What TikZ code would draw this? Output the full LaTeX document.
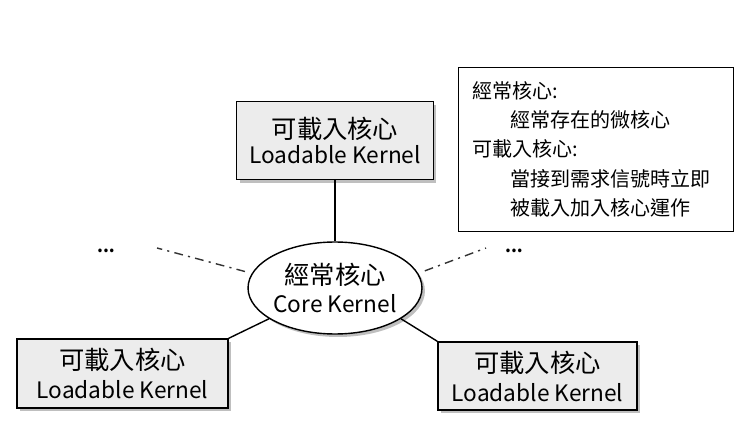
\documentclass[tikz,border=0pt]{standalone}
\usepackage{fontspec}
\setmainfont{Noto Sans CJK TC}
\usetikzlibrary{shapes,shadows,positioning}

\newcommand{\kname}[1]{{\fontsize{12.9}{16}\selectfont #1}}

\begin{document}
\begin{tikzpicture}[
				x=0.02cm, y=-0.02cm,
				loadable/.style={rectangle, draw, thick, fill=gray!15, align=center, inner sep=0pt, font=\fontsize{14.4}{16.5}\selectfont, drop shadow={shadow xshift=0.06cm, shadow yshift=-0.06cm}},
				core/.style={ellipse, draw, thick, fill=white, minimum width=3.4cm, minimum height=1.84cm, inner sep=0pt, align=center, font=\fontsize{14.4}{15.5}\selectfont, drop shadow={shadow xshift=0.06cm, shadow yshift=-0.06cm}},
				link/.style={thick},
				hint/.style={thick, gray!40!black, dash pattern=on 5pt off 3pt on 1.2pt off 3pt},
				note/.style={rectangle, draw, anchor=north west, text width=5.5cm, minimum height=3.28cm, align=left, inner sep=0pt, font=\fontsize{11.4}{16.6}\selectfont},
				more/.style={font=\bfseries\fontsize{9.5}{10}\selectfont}
				]
				\useasboundingbox (0,0) rectangle (749,438);
				\node[core] (core) at (335,288) {經常核心\\\kname{Core Kernel}};
				\node[loadable, minimum width=3.94cm, minimum height=1.56cm, above=1.22cm of core] (top) {\raisebox{-2pt}{可載入核心}\\\kname{Loadable Kernel}};
				\node[loadable, minimum width=4.22cm, minimum height=1.38cm] (left) at (122.5,373.5) {可載入核心\\\kname{Loadable Kernel}};
				\node[loadable, minimum width=3.98cm, minimum height=1.36cm] (right) at (537.5,376) {可載入核心\\\kname{Loadable Kernel}};
				
				\node[note] (note) at (458,67) {\hspace{0.28cm}經常核心:\\\hspace{1.04cm}經常存在的微核心\\\hspace{0.28cm}可載入核心:\\\hspace{1.04cm}當接到需求信號時立即\\\hspace{1.04cm}被載入加入核心運作};
				
				\node[more] (dotsl) at (106,251) {...};
				\node[more] (dotsr) at (514,251) {...};
				\coordinate (hintl) at (157,248);
				\coordinate (hintr) at (486,248);
				
				\draw[link] (top) -- (core);
				\draw[link] (core.205) -- (left.north east);
				\draw[link] (core.-25) -- (right.north west);
				\draw[hint, shorten <=4pt] (core.170) -- (hintl);
				\draw[hint, shorten <=4pt] (core.10) -- (hintr);
			\end{tikzpicture}
\end{document}
